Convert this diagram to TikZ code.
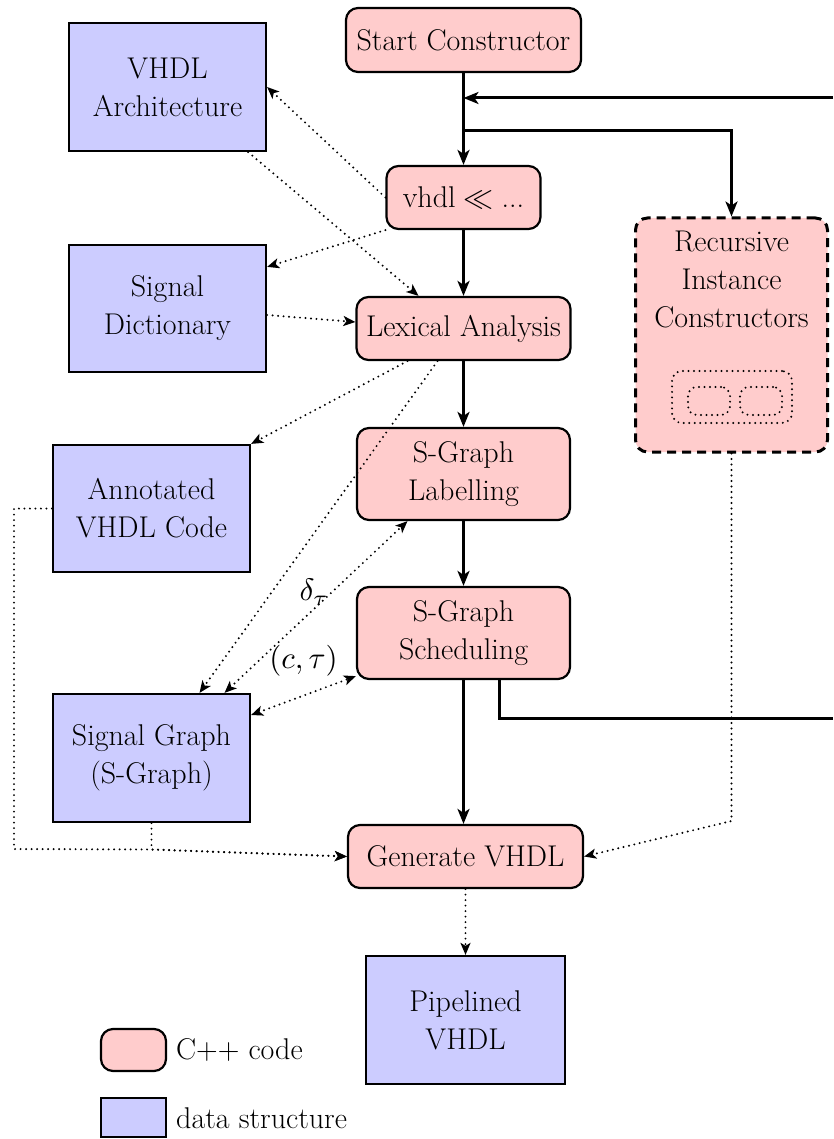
\documentclass[tikz,border=0pt]{standalone}
\usepackage{fontspec}
\usetikzlibrary{arrows.meta}
\definecolor{cppfill}{HTML}{FFCCCC}
\definecolor{dsfill}{HTML}{CCCCFF}
\tikzset{
  basebox/.style={draw=black, line width=2.2pt, align=center, inner sep=0pt,
    font=\fontsize{30}{38}\selectfont},
  cppbox/.style={basebox, fill=cppfill, rounded corners=12pt},
  dsbox/.style={basebox, fill=dsfill},
  flowline/.style={line width=3pt},
  flow/.style={flowline, -{Stealth[length=15pt,width=12pt,inset=4pt]}},
  dotl/.style={line width=2.2pt, line cap=round, dash pattern=on 0pt off 5.5pt},
  dotarr/.style={dotl, -{Stealth[length=12pt,width=10pt,inset=3pt]}},
  dotboth/.style={dotl, {Stealth[length=12pt,width=10pt,inset=3pt]}-{Stealth[length=12pt,width=10pt,inset=3pt]}},
  lbl/.style={font=\fontsize{30}{38}\selectfont, inner sep=0pt},
  mathlbl/.style={font=\normalsize, scale=3.1, inner sep=0pt},
}
\begin{document}
\begin{tikzpicture}[x=1pt,y=-1pt]
\useasboundingbox (0,0) rectangle (833,1139);

% main flow
\node[cppbox, minimum width=235pt, minimum height=64pt] (start) at (463.5,40) {Start Constructor};
\node[cppbox, minimum width=154pt, minimum height=63pt] (vhdl) at (463.5,197.5) {vhdl\hspace{8pt}{\fontsize{10}{12}\selectfont\scalebox{3}{$\ll$}}\hspace{8pt}...};
\node[cppbox, minimum width=214pt, minimum height=63pt] (lex) at (463.5,328.5) {Lexical Analysis};
\node[cppbox, minimum width=213pt, minimum height=92pt] (lab) at (463.5,474) {S-Graph\\Labelling};
\node[cppbox, minimum width=213pt, minimum height=92pt] (sched) at (463.5,633) {S-Graph\\Scheduling};
\node[cppbox, minimum width=235pt, minimum height=63pt] (gen) at (465.5,856.5) {Generate VHDL};
\node[dsbox, minimum width=199pt, minimum height=128pt] (pipe) at (465.5,1020) {Pipelined\\VHDL};

% data structures
\node[dsbox, minimum width=197pt, minimum height=128pt] (arch) at (167.5,87) {VHDL\\Architecture};
\node[dsbox, minimum width=197pt, minimum height=127pt] (dict) at (167.5,308.5) {Signal\\Dictionary};
\node[dsbox, minimum width=197pt, minimum height=127pt] (annot) at (151.5,508.5) {Annotated\\VHDL Code};
\node[dsbox, minimum width=197pt, minimum height=128pt] (sg) at (151.5,758) {Signal Graph\\(S-Graph)};

% recursive constructors
\node[cppbox, dash pattern=on 9pt off 6pt, line width=3pt, minimum width=192pt, minimum height=234pt] (rec) at (731.5,335) {};
\node[lbl, align=center] (rectxt) at (731.5,279) {Recursive\\Instance\\Constructors};
\node[draw, dotl, rounded corners=10pt, minimum width=120pt, minimum height=52pt, inner sep=0pt] (inner) at (732,397) {};
\node[draw, dotl, rounded corners=9pt, minimum width=42pt, minimum height=28pt, inner sep=0pt] (innerl) at (709,401) {};
\node[draw, dotl, rounded corners=9pt, minimum width=42pt, minimum height=28pt, inner sep=0pt] (innerr) at (761,401) {};

% legend
\node[cppbox, minimum width=65pt, minimum height=42pt] (legc) at (133.5,1050) {};
\node[lbl, anchor=west] (legctxt) at (176,1050) {C++ code};
\node[dsbox, minimum width=65pt, minimum height=39pt] (legd) at (133.5,1117.5) {};
\node[lbl, anchor=west] (legdtxt) at (176,1118) {data structure};

% thick connectors
\coordinate (loopin) at (833,98);
\coordinate (branch) at (463.5,131);
\coordinate (loopout) at (833,718);
\draw[flow] (start.south) -- (vhdl.north);
\draw[flow] (loopin) -- (loopin -| start.south);
\draw[flow] (branch) -| (rec.north);
\draw[flow] (vhdl.south) -- (lex.north);
\draw[flow] (lex.south) -- (lab.north);
\draw[flow] (lab.south) -- (sched.north);
\draw[flow] (sched.south) -- (sched.south |- gen.north);
\draw[flowline] ([xshift=36pt]sched.south) |- (loopout);

% dotted connectors
\draw[dotarr] (vhdl.west) -- (arch.east);
\draw[dotarr] ([xshift=-19pt]arch.south east) -- ([xshift=-45pt]lex.north);
\draw[dotarr] (vhdl.south west) -- ([yshift=-23pt]dict.north east);
\draw[dotarr] ([yshift=-6.5pt]dict.east) -- ([yshift=6.5pt]lex.west);
\draw[dotarr] ([xshift=-56pt]lex.south) -- (annot.north east);
\draw[dotarr] ([xshift=-26pt]lex.south) -- ([xshift=48pt]sg.north);
\draw[dotboth] ([xshift=73pt]sg.north) -- node[mathlbl, pos=0.64, left=6pt, xshift=3pt, yshift=-3pt] (dlbl) {$\delta_\tau$} ([xshift=-56pt]lab.south);
\draw[dotboth] ([yshift=43pt]sg.east) -- node[mathlbl, midway, above=5pt] (clbl) {$(c,\tau)$} ([yshift=4pt]sched.south west);

\coordinate (jl) at (14,849);
\coordinate (j) at (151.5,849.5);
\coordinate (rc) at (731.5,821);
\draw[dotarr] (annot.west) -| (jl) -- (j) -- (gen.west);
\draw[dotarr] (sg.south) -- (j) -- (gen.west);
\draw[dotarr] (rec.south) -- (rc) -- (gen.east);
\draw[dotarr] (gen.south) -- (pipe.north);
\end{tikzpicture}
\end{document}
